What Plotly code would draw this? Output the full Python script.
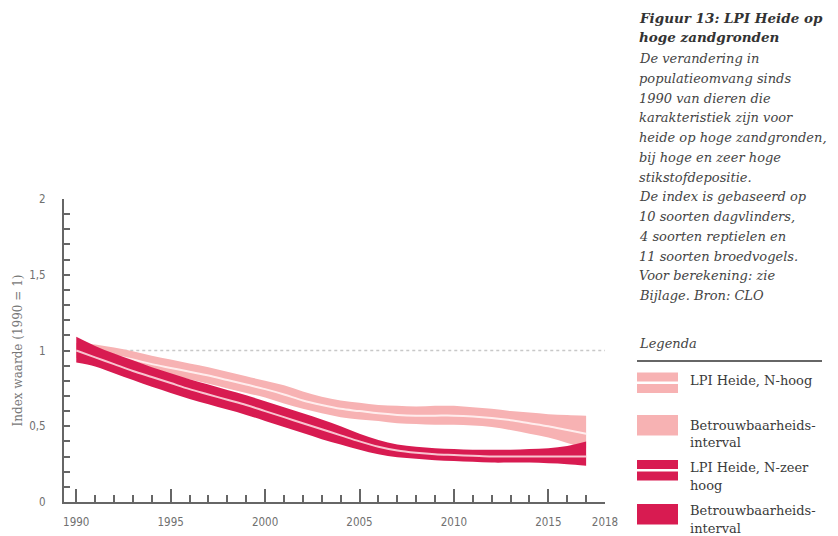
import plotly.graph_objects as go

# ---------------- data ----------------
years = list(range(1990, 2018))

hoog_mid = [1.00, 0.985, 0.965, 0.94, 0.91, 0.885, 0.86, 0.835, 0.805, 0.775,
            0.745, 0.71, 0.67, 0.64, 0.615, 0.60, 0.585, 0.575, 0.57, 0.57,
            0.57, 0.565, 0.555, 0.54, 0.52, 0.50, 0.475, 0.45]
hoog_hi = [1.05, 1.04, 1.02, 0.995, 0.965, 0.94, 0.915, 0.89, 0.86, 0.83,
           0.80, 0.77, 0.73, 0.695, 0.67, 0.655, 0.64, 0.635, 0.63, 0.635,
           0.635, 0.625, 0.615, 0.60, 0.59, 0.58, 0.575, 0.57]
hoog_lo = [0.95, 0.93, 0.91, 0.885, 0.86, 0.835, 0.81, 0.78, 0.75, 0.72,
           0.69, 0.65, 0.615, 0.585, 0.56, 0.545, 0.535, 0.52, 0.515, 0.51,
           0.51, 0.505, 0.495, 0.475, 0.45, 0.425, 0.39, 0.355]

zeer_mid = [1.00, 0.955, 0.91, 0.865, 0.825, 0.785, 0.745, 0.71, 0.675, 0.64,
            0.60, 0.56, 0.52, 0.48, 0.44, 0.40, 0.365, 0.34, 0.325, 0.315,
            0.31, 0.305, 0.30, 0.30, 0.30, 0.30, 0.30, 0.30]
zeer_hi = [1.09, 1.03, 0.98, 0.935, 0.89, 0.85, 0.81, 0.775, 0.74, 0.705,
           0.665, 0.625, 0.585, 0.545, 0.50, 0.45, 0.41, 0.38, 0.365, 0.355,
           0.35, 0.345, 0.345, 0.345, 0.35, 0.355, 0.37, 0.40]
zeer_lo = [0.92, 0.895, 0.85, 0.805, 0.76, 0.72, 0.68, 0.645, 0.61, 0.575,
           0.535, 0.495, 0.455, 0.415, 0.38, 0.345, 0.315, 0.295, 0.285, 0.275,
           0.27, 0.265, 0.26, 0.26, 0.26, 0.255, 0.25, 0.24]

ref_x = [1990, 2018]
ref_y = [1, 1]

xtick_vals = [1990, 1995, 2000, 2005, 2010, 2015, 2018]
xtick_text = ["1990", "1995", "2000", "2005", "2010", "2015", "2018"]
ytick_vals = [0, 0.5, 1, 1.5, 2]
ytick_text = ["0", "0,5", "1", "1,5", "2"]

y_title = "Index waarde (1990 = 1)"
title_lines = ["Figuur 13: LPI Heide op", "hoge zandgronden"]
body_lines = ["De verandering in", "populatieomvang sinds", "1990 van dieren die",
              "karakteristiek zijn voor", "heide op hoge zandgronden,",
              "bij hoge en zeer hoge", "stikstofdepositie.",
              "De index is gebaseerd op", "10 soorten dagvlinders,",
              "4 soorten reptielen en", "11 soorten broedvogels.",
              "Voor berekening: zie", "Bijlage. Bron: CLO"]
legend_title = "Legenda"
legend_items = [["LPI Heide, N-hoog"], ["Betrouwbaarheids-", "interval"],
                ["LPI Heide, N-zeer", "hoog"], ["Betrouwbaarheids-", "interval"]]

# ---------------- style ----------------
LIGHT = "#f7b2b3"
DARK = "#d81b51"
LIGHT_LINE = "rgba(255,240,240,0.95)"
DARK_LINE = "rgba(250,205,215,0.95)"
AX = "#666666"
NARROW = "DejaVu Sans Condensed, Liberation Sans Narrow, Roboto, sans-serif"
SERIF = "DejaVu Serif, serif"

# plot area in pixels
L, R, T, B = 64, 605, 199, 502
def px(x):
    return (x - L) / (R - L)
def py(y):
    return (B - y) / (B - T)

fig = go.Figure()

def band(hi, lo, color):
    fig.add_trace(go.Scatter(x=years, y=hi, mode="lines", line=dict(width=0, shape="spline", color=color),
                             hoverinfo="skip", showlegend=False))
    fig.add_trace(go.Scatter(x=years, y=lo, mode="lines", line=dict(width=0, shape="spline", color=color),
                             fill="tonexty", fillcolor=color, hoverinfo="skip", showlegend=False))

fig.add_trace(go.Scatter(x=ref_x, y=ref_y, mode="lines",
                         line=dict(color="#c8c8c8", width=1.5, dash="dot"),
                         hoverinfo="skip", showlegend=False))
band(hoog_hi, hoog_lo, LIGHT)
fig.add_trace(go.Scatter(x=years, y=hoog_mid, mode="lines",
                         line=dict(color=LIGHT_LINE, width=2, shape="spline"), showlegend=False))
band(zeer_hi, zeer_lo, DARK)
fig.add_trace(go.Scatter(x=years, y=zeer_mid, mode="lines",
                         line=dict(color=DARK_LINE, width=2, shape="spline"), showlegend=False))

shapes = []
annotations = []

# right text block
for i, t in enumerate(title_lines):
    annotations.append(dict(x=px(637), y=py(18 + i * 19), xref="paper", yref="paper",
                            text="<b><i>" + t + "</i></b>", showarrow=False,
                            xanchor="left", yanchor="middle",
                            font=dict(family=SERIF, size=13.5, color="#333333")))
for i, t in enumerate(body_lines):
    annotations.append(dict(x=px(637), y=py(58.5 + i * 19.75), xref="paper", yref="paper",
                            text="<i>" + t + "</i>", showarrow=False,
                            xanchor="left", yanchor="middle",
                            font=dict(family=SERIF, size=13, color="#444444")))

# legend
annotations.append(dict(x=px(637), y=py(343), xref="paper", yref="paper",
                        text="<i>" + legend_title + "</i>", showarrow=False,
                        xanchor="left", yanchor="middle",
                        font=dict(family=SERIF, size=13, color="#444444")))
shapes.append(dict(type="line", xref="paper", yref="paper", x0=px(637), x1=px(822),
                   y0=py(361), y1=py(361), line=dict(color="#666666", width=2)))

sw_tops = [372.5, 415, 460, 504]
sw_cols = [LIGHT, LIGHT, DARK, DARK]
sw_line = [LIGHT_LINE, None, DARK_LINE, None]
txt_y = [[380], [425, 442], [467, 485], [510.5, 528]]
for k in range(4):
    shapes.append(dict(type="rect", xref="paper", yref="paper", x0=px(637), x1=px(678),
                       y0=py(sw_tops[k] + 20.5), y1=py(sw_tops[k]), fillcolor=sw_cols[k],
                       line=dict(width=0)))
    if sw_line[k]:
        shapes.append(dict(type="line", xref="paper", yref="paper", x0=px(637), x1=px(678),
                           y0=py(sw_tops[k] + 10.25), y1=py(sw_tops[k] + 10.25),
                           line=dict(color="white", width=2.5)))
    for j, t in enumerate(legend_items[k]):
        annotations.append(dict(x=px(688), y=py(txt_y[k][j]), xref="paper", yref="paper",
                                text=t, showarrow=False, xanchor="left", yanchor="middle",
                                font=dict(family=SERIF, size=13, color="#3a3a3a")))

fig.update_layout(
    width=838, height=536, autosize=False,
    margin=dict(l=L, r=838 - R, t=T, b=536 - B, autoexpand=False),
    paper_bgcolor="white", plot_bgcolor="white",
    showlegend=False,
    shapes=shapes, annotations=annotations,
    xaxis=dict(range=[1989.35, 2018], showline=True, linecolor=AX, linewidth=2,
               showgrid=False, zeroline=False, automargin=False,
               tickmode="array", tickvals=xtick_vals, ticktext=xtick_text,
               ticks="inside", ticklen=13, tickwidth=1.5, tickcolor=AX,
               minor=dict(dtick=1, tick0=1990, ticks="inside", ticklen=7, tickwidth=1.5, tickcolor=AX),
               tickfont=dict(family=NARROW, size=11.5, color="#707070"),
               ticklabelstandoff=8),
    yaxis=dict(range=[0, 2], showline=True, linecolor=AX, linewidth=2,
               showgrid=False, zeroline=False, automargin=False,
               tickmode="array", tickvals=ytick_vals, ticktext=ytick_text,
               ticks="inside", ticklen=6, tickwidth=1.5, tickcolor=AX,
               minor=dict(dtick=0.1, tick0=0, ticks="inside", ticklen=6, tickwidth=1.5, tickcolor=AX),
               tickfont=dict(family=NARROW, size=11.5, color="#707070"),
               ticklabelstandoff=14,
               title=dict(text=y_title, standoff=4,
                          font=dict(family=SERIF, size=12, color="#777777"))),
)

fig.write_html("out.html", config={"displayModeBar": False},
               post_script=["document.body.style.margin='0px';"])
